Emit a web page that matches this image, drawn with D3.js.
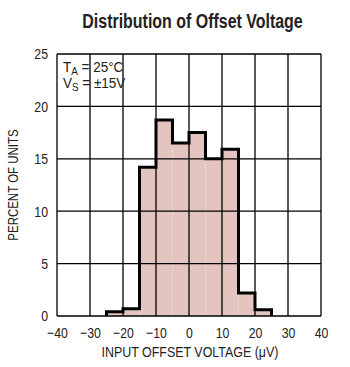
<!DOCTYPE html>
<html><head><meta charset="utf-8">
<script src="https://cdn.jsdelivr.net/npm/d3@7"></script>
<style>body{margin:0;background:#fff}svg{display:block}</style>
</head><body>
<script>
const binStarts = [-25,-20,-15,-10,-5,0,5,10,15,20];
const binWidth = 5;
const percents = [0.4,0.7,14.2,18.7,16.5,17.5,15.0,15.9,2.2,0.6];
const xTicks = [-40,-30,-20,-10,0,10,20,30,40];
const yTicks = [0,5,10,15,20,25];

const W=350,H=367;
const m={l:57,r:29,t:54,b:51};
const svg=d3.select("body").append("svg").attr("width",W).attr("height",H);
const x=d3.scaleLinear().domain([-40,40]).range([m.l,W-m.r]);
const y=d3.scaleLinear().domain([0,25]).range([H-m.b,m.t]);
const font="'Liberation Sans',Arial,sans-serif";
const data=binStarts.map((s,i)=>({s,v:percents[i]}));

// fill
svg.append("g").selectAll("rect").data(data).join("rect")
 .attr("x",d=>x(d.s)).attr("width",d=>x(d.s+binWidth)-x(d.s))
 .attr("y",d=>y(d.v)).attr("height",d=>y(0)-y(d.v)).attr("fill","#e3c4be");

// grid
const g=svg.append("g").attr("stroke","#000").attr("stroke-width",1.3);
g.selectAll(".vx").data(xTicks).join("line").attr("x1",d=>x(d)).attr("x2",d=>x(d)).attr("y1",y(25)).attr("y2",y(0));
g.selectAll(".hy").data(yTicks).join("line").attr("y1",d=>y(d)).attr("y2",d=>y(d)).attr("x1",x(-40)).attr("x2",x(40));

// outline step
const pts=[[binStarts[0],0]];
data.forEach(d=>{pts.push([d.s,d.v]);pts.push([d.s+binWidth,d.v]);});
pts.push([binStarts[binStarts.length-1]+binWidth,0]);
svg.append("path").attr("d",d3.line().x(p=>x(p[0])).y(p=>y(p[1]))(pts))
 .attr("fill","none").attr("stroke","#000").attr("stroke-width",3).attr("stroke-linejoin","miter");

// axes
const xa=d3.axisBottom(x).tickValues(xTicks).tickSize(0).tickPadding(11).tickFormat(d=>d<0?"\u2212"+Math.abs(d):d);
svg.append("g").attr("transform",`translate(0,${y(0)})`).call(xa)
 .call(s=>s.select(".domain").remove())
 .selectAll("text").attr("font-family",font).attr("font-size",15).attr("fill","#222")
 .attr("transform","scale(0.82,1)");
const ya=d3.axisLeft(y).tickValues(yTicks).tickSize(0).tickPadding(11);
svg.append("g").attr("transform",`translate(${x(-40)},0)`).call(ya)
 .call(s=>s.select(".domain").remove())
 .selectAll("text").attr("font-family",font).attr("font-size",15).attr("fill","#222")
 .attr("transform","scale(0.82,1)");

// titles
svg.append("text").attr("transform","translate(192.5,28) scale(0.76,1)").attr("text-anchor","middle")
 .attr("font-family",font).attr("font-weight","bold").attr("font-size",21).attr("fill","#222")
 .text("Distribution of Offset Voltage");
svg.append("text").attr("transform","translate(190,357) scale(0.83,1)").attr("text-anchor","middle")
 .attr("font-family",font).attr("font-size",15).attr("fill","#222")
 .text("INPUT OFFSET VOLTAGE (\u03bcV)");
svg.append("text").attr("transform",`translate(18,185) rotate(-90) scale(0.82,1)`).attr("text-anchor","middle")
 .attr("font-family",font).attr("font-size",14).attr("fill","#222")
 .text("PERCENT OF UNITS");

// annotation
const a1=svg.append("text").attr("x",63).attr("y",72).attr("font-family",font).attr("font-size",15).attr("fill","#222");
a1.append("tspan").text("T");
a1.append("tspan").attr("font-size",11).attr("dy",3).text("A");
a1.append("tspan").attr("dy",-3).text(" = 25\u00b0C");
a1.attr("transform","translate(63,0) scale(0.9,1) translate(-63,0)");
const a2=svg.append("text").attr("x",63).attr("y",88).attr("font-family",font).attr("font-size",15).attr("fill","#222");
a2.append("tspan").text("V");
a2.append("tspan").attr("font-size",11).attr("dy",3).text("S");
a2.append("tspan").attr("dy",-3).text(" = \u00b115V");
a2.attr("transform","translate(63,0) scale(0.9,1) translate(-63,0)");
</script>
</body></html>
